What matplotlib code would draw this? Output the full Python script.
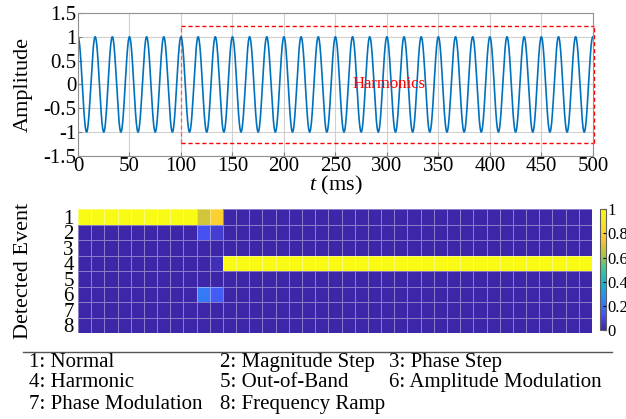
import numpy as np
import matplotlib
matplotlib.use("Agg")
import matplotlib.pyplot as plt
from matplotlib.colors import LinearSegmentedColormap

plt.rcParams['font.family'] = ['Liberation Serif', 'DejaVu Serif']
plt.rcParams['mathtext.fontset'] = 'custom'
plt.rcParams['mathtext.rm'] = 'Liberation Serif'
plt.rcParams['mathtext.it'] = 'Liberation Serif:italic'

# signal parameters
freq_hz = 60
amplitude = 1.0
t_end_ms = 500
harm_start_ms = 100
box_level = 1.22

# detection output (8 events x 39 windows)
n_win = 39
event1 = [1] * 9 + [0.68, 0.8] + [0] * 28
event2 = [0] * 9 + [0.12, 0.07] + [0] * 28
event3 = [0] * 39
event4 = [0] * 9 + [0.0, 0.03] + [1] * 28
event5 = [0] * 39
event6 = [0] * 9 + [0.22, 0.15] + [0] * 28
event7 = [0] * 39
event8 = [0] * 39
event_ticks = ['1', '2', '3', '4', '5', '6', '7', '8']

legend_rows = [
    ["1: Normal", "2: Magnitude Step", "3: Phase Step"],
    ["4: Harmonic", "5: Out-of-Band", "6: Amplitude Modulation"],
    ["7: Phase Modulation", "8: Frequency Ramp", ""],
]

parula = LinearSegmentedColormap.from_list("parula", [
    (0.2422, 0.1504, 0.6603), (0.2810, 0.3228, 0.9579),
    (0.1786, 0.5289, 0.9682), (0.0689, 0.6948, 0.8394),
    (0.2161, 0.7843, 0.5923), (0.6720, 0.7793, 0.2227),
    (0.9970, 0.7659, 0.2199), (0.9629, 0.8888, 0.1538),
    (0.9769, 0.9839, 0.0805)])

fig = plt.figure(figsize=(6.26, 4.19), dpi=100)

# --- waveform ---
ax = fig.add_axes([0.1246, 0.628, 0.8224, 0.341])
t = np.linspace(0, t_end_ms, 5001)
y = amplitude * np.cos(2 * np.pi * freq_hz * t / 1000)
ax.plot(t, y, color=(0, 0.447, 0.741), lw=1.2)
ax.set_xlim(0, 500)
ax.set_ylim(-1.5, 1.5)
ax.set_xticks(np.arange(0, 501, 50))
ax.set_yticks([-1.5, -1, -0.5, 0, 0.5, 1, 1.5])
ax.set_yticklabels(['-1.5', '-1', '-0.5', '0', '0.5', '1', '1.5'])
ax.grid(True, color='#d0d0d0', lw=0.8)
ax.tick_params(direction='in', length=3, labelsize=15, color='#808080', pad=1)
for s in ax.spines.values():
    s.set_color('#909090')
ax.set_xlabel('$t$ (ms)', fontsize=16)
ax.xaxis.set_label_coords(0.5, -0.13)
ax.set_ylabel('Amplitude', fontsize=16)
ax.yaxis.set_label_coords(-0.088, 0.5)

red = dict(color='red', ls=(0, (3, 2)), lw=1.0, clip_on=False)
ax.plot([harm_start_ms, 501], [box_level, box_level], **red)
ax.plot([harm_start_ms, 501], [-box_level, -box_level], **red)
ax.plot([501, 501], [-box_level, box_level], **red)
ax.plot([harm_start_ms, harm_start_ms], [-box_level, box_level], color='red', ls=(0, (3, 2)), lw=1.0, alpha=0.5)
ax.text(267, 0, 'Harmonics', color='red', fontsize=12, va='center', ha='left')

# --- detection heatmap ---
hx = fig.add_axes([0.1246, 0.205, 0.821, 0.296])
data = np.array([event1, event2, event3, event4, event5, event6, event7, event8])
mesh = hx.pcolormesh(np.arange(n_win + 1), np.arange(9), data, cmap=parula, vmin=0, vmax=1,
                     edgecolors=(1, 1, 1, 0.4), linewidth=0.7)
hx.set_xlim(0, n_win)
hx.set_ylim(8, 0)
hx.set_xticks([])
hx.set_yticks(np.arange(8) + 0.5)
hx.set_yticklabels(event_ticks, fontsize=15)
hx.tick_params(length=0, pad=3)
for s in hx.spines.values():
    s.set_visible(False)
hx.set_ylabel('Detected Event', fontsize=16)
hx.yaxis.set_label_coords(-0.088, 0.5)

cax = fig.add_axes([0.958, 0.212, 0.010, 0.289])
cb = fig.colorbar(mesh, cax=cax, ticks=[0, 0.2, 0.4, 0.6, 0.8, 1])
cb.ax.set_yticklabels(['0', '0.2', '0.4', '0.6', '0.8', '1'])
cb.ax.tick_params(direction='in', length=2, labelsize=12, pad=1)
cb.outline.set_edgecolor('#606060')

# --- event legend ---
fig.add_artist(plt.Line2D([0.036, 0.978], [0.160, 0.160], color='#555555', lw=1.0))
col_x = [0.046, 0.352, 0.621]
row_y = [0.136, 0.086, 0.034]
for r, row in enumerate(legend_rows):
    for c, txt in enumerate(row):
        fig.text(col_x[c], row_y[r], txt, fontsize=15, va='center', ha='left')

fig.savefig('out.png', dpi=100)
